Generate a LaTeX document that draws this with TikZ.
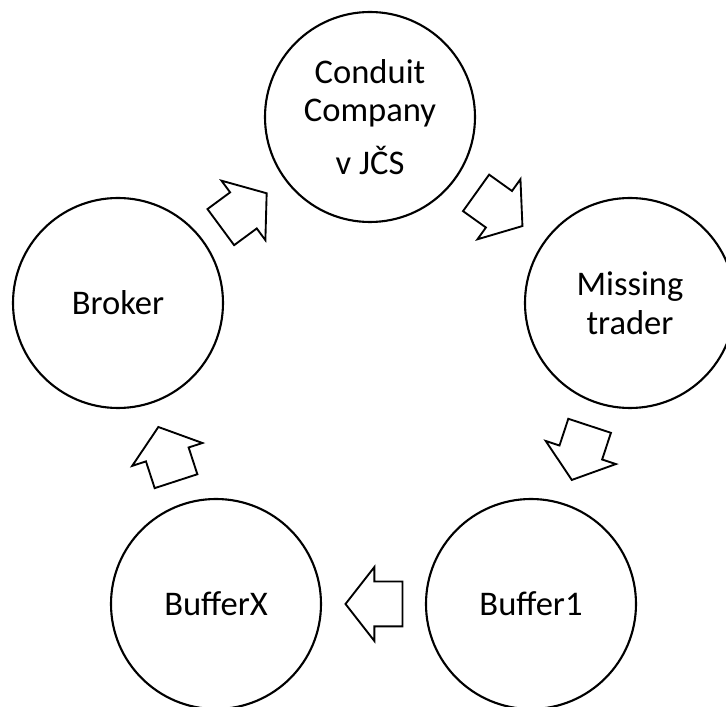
\documentclass[tikz,border=0pt]{standalone}
\usepackage{fontspec}
\setmainfont{Carlito}
\usepackage{tikz}
\usetikzlibrary{shapes}
\usetikzlibrary{shapes.arrows}
\tikzset{
	main node/.style={circle,draw,line width=1.8pt,minimum size=6.3cm,inner sep=0pt,
		align=center,font=\fontsize{29.5}{33}\selectfont},
	flow/.style={single arrow,draw,line width=1.6pt,fill=white,inner xsep=0pt,inner ysep=0.645cm,
		minimum height=1.71cm,single arrow head extend=0.435cm,
		single arrow tip angle=104,pos=0.41,sloped,allow upside down}
}

\begin{document}
\begin{tikzpicture}
	\useasboundingbox (0,0) rectangle (21.78,21.21);
	% the five companies of the chain
	\node [main node] (conduit) at (11.1,17.7) {Conduit\\Company\\[12pt]v JČS};
	\node [main node] (missing) at (18.9,12.12) {Missing\\trader};
	\node [main node] (buf1) at (15.93,3.09) {Buffer1};
	\node [main node] (bufx) at (6.48,3.09) {BufferX};
	\node [main node] (broker) at (3.54,12.12) {Broker};
	% block arrows halfway between them
	\path (broker) -- node [flow] {} (conduit);
	\path (conduit) -- node [flow] {} (missing);
	\path (missing) -- node [flow] {} (buf1);
	\path (buf1) -- node [flow] {} (bufx);
	\path (bufx) -- node [flow] {} (broker);
\end{tikzpicture}
\end{document}
